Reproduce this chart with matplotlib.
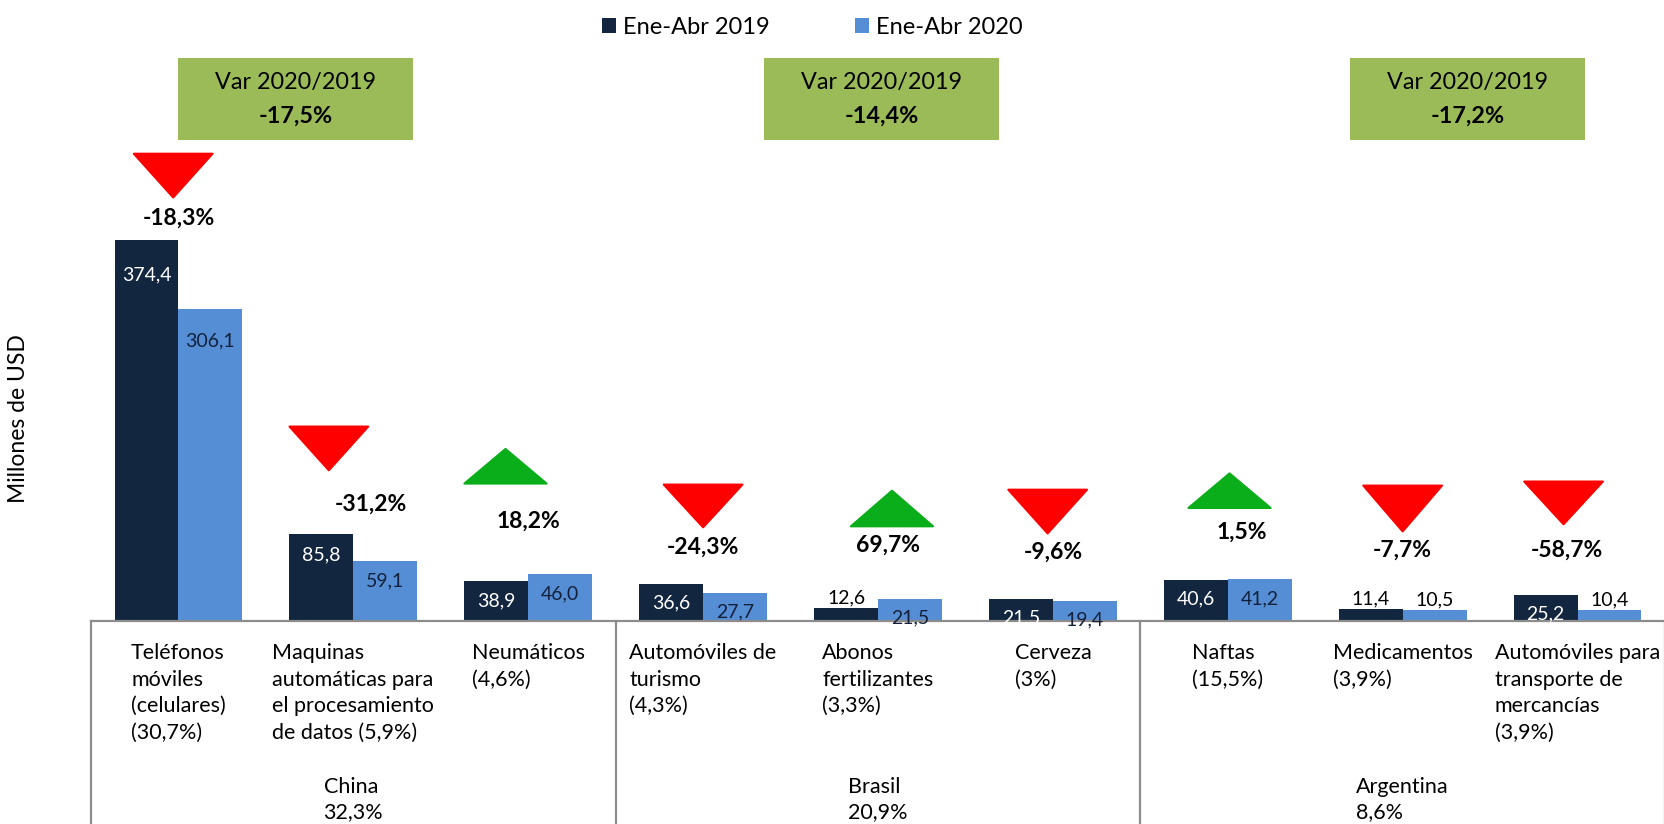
import numpy as np
import matplotlib.pyplot as plt
from matplotlib.patches import Polygon, Rectangle
from matplotlib.transforms import blended_transform_factory

plt.rcParams['font.family'] = ['Lato', 'DejaVu Sans']

# datos
categorias = ['Teléfonos\nmóviles\n(celulares)\n(30,7%)',
              'Maquinas\nautomáticas para\nel procesamiento\nde datos (5,9%)',
              'Neumáticos\n(4,6%)',
              'Automóviles de\nturismo\n(4,3%)',
              'Abonos\nfertilizantes\n(3,3%)',
              'Cerveza\n(3%)',
              'Naftas\n(15,5%)',
              'Medicamentos\n(3,9%)',
              'Automóviles para\ntransporte de\nmercancías\n(3,9%)']
v2019 = [374.4, 85.8, 38.9, 36.6, 12.6, 21.5, 40.6, 11.4, 25.2]
v2020 = [306.1, 59.1, 46.0, 27.7, 21.5, 19.4, 41.2, 10.5, 10.4]
var_producto = [-18.3, -31.2, 18.2, -24.3, 69.7, -9.6, 1.5, -7.7, -58.7]
paises = ['China\n32,3%', 'Brasil\n20,9%', 'Argentina\n8,6%']
var_pais = [-17.5, -14.4, -17.2]
series = ['Ene-Abr 2019', 'Ene-Abr 2020']

# posiciones de las flechas y etiquetas (ajustadas a mano)
tri_dx = [-0.03, -0.14, -0.13, 0.0, 0.08, -0.03, 0.01, 0.0, -0.08]
tri_top = [459, 191, 169, 134, 128, 129, 145, 133, 137]
tri_bot = [416, 148, 135, 92, 93, 86, 111, 88, 95]
lbl_dx = [0.0, 0.1, 0.0, 0.0, 0.06, 0.0, 0.08, 0.0, -0.06]
lbl_y = [396, 115, 98, 72, 74, 68, 87, 70, 70]
box_x0 = [0.0, 3.35, 6.70]

c19 = '#13263F'
c20 = '#558ED5'
rojo = '#FF0000'
verde = '#0AAD1A'
gris = '#8C8C8C'

def fmt(v):
    return f'{v:.1f}'.replace('.', ',')

fig = plt.figure(figsize=(16.65, 8.24), dpi=100)
ax = fig.add_axes([91 / 1665, 203 / 824, 1574 / 1665, 621 / 824])

x = np.arange(len(categorias))
w = 0.365
b1 = ax.bar(x - w / 2, v2019, w, color=c19, label=series[0])
b2 = ax.bar(x + w / 2, v2020, w, color=c20, label=series[1])

ax.set_xlim(-0.5, len(categorias) - 0.5)
ax.set_ylim(0, 610)
ax.set_xticks([])
ax.set_yticks([])
for s in ['left', 'right', 'top']:
    ax.spines[s].set_visible(False)
ax.spines['bottom'].set_color(gris)
ax.spines['bottom'].set_linewidth(1.6)

# etiquetas de valores
for xs, vals, col_in in [(x - w / 2, v2019, 'white'), (x + w / 2, v2020, '#14213a')]:
    for xi, v in zip(xs, vals):
        if v < 15:
            ax.text(xi, v + 2, fmt(v), ha='center', va='bottom', fontsize=14, color='black')
        else:
            ax.text(xi, v - (9 + 0.045 * v), fmt(v), ha='center', va='top', fontsize=14,
                    color=col_in, clip_on=False)

# flechas de variacion
hw = 0.225
for i, p in enumerate(var_producto):
    cx = x[i] + tri_dx[i]
    if p < 0:
        pts = [(cx - hw, tri_top[i]), (cx + hw, tri_top[i]), (cx, tri_bot[i])]
        col = rojo
    else:
        pts = [(cx - hw - 0.01, tri_bot[i]), (cx + hw + 0.01, tri_bot[i]), (cx, tri_top[i])]
        col = verde
    ax.add_patch(Polygon(pts, closed=True, facecolor=col, edgecolor=col, lw=1.5, joinstyle='round'))
    ax.text(x[i] + lbl_dx[i], lbl_y[i], fmt(p) + '%', ha='center', va='center',
            fontsize=16.5, fontweight='bold', color='black')

# cajas de variacion por pais
for g in range(3):
    ax.add_patch(Rectangle((box_x0[g], 472), 1.34, 81, facecolor='#9BBB59', edgecolor='none'))
    cx = box_x0[g] + 0.67
    ax.text(cx, 529, 'Var 2020/2019', ha='center', va='center', fontsize=16.8)
    ax.text(cx, 496, fmt(var_pais[g]) + '%', ha='center', va='center', fontsize=16.8, fontweight='bold')

# etiquetas de categorias y paises
trans = blended_transform_factory(ax.transData, ax.transAxes)
for i, c in enumerate(categorias):
    ax.text(x[i], -0.036, c, transform=trans, ha='center', va='top', multialignment='left',
            fontsize=15.5, linespacing=1.4)
for g, p in enumerate(paises):
    ax.text(3 * g + 1, -0.252, p, transform=trans, ha='center', va='top', multialignment='left',
            fontsize=15.5, linespacing=1.3)
for xb in [-0.5, 2.5, 5.5, 8.5]:
    ax.plot([xb, xb], [0, -0.4], transform=trans, color=gris, lw=1.6, clip_on=False)

fig.text(19 / 1665, 1 - 419 / 824, 'Millones de USD', rotation=90, ha='center', va='center', fontsize=16.5)

fig.legend(handles=[b1, b2], loc='upper center', bbox_to_anchor=(0.488, 1.005), ncol=2, frameon=False,
           fontsize=17, handlelength=0.6, handleheight=0.6, handletextpad=0.3, columnspacing=3.6)

fig.savefig('out.png', dpi=100)
